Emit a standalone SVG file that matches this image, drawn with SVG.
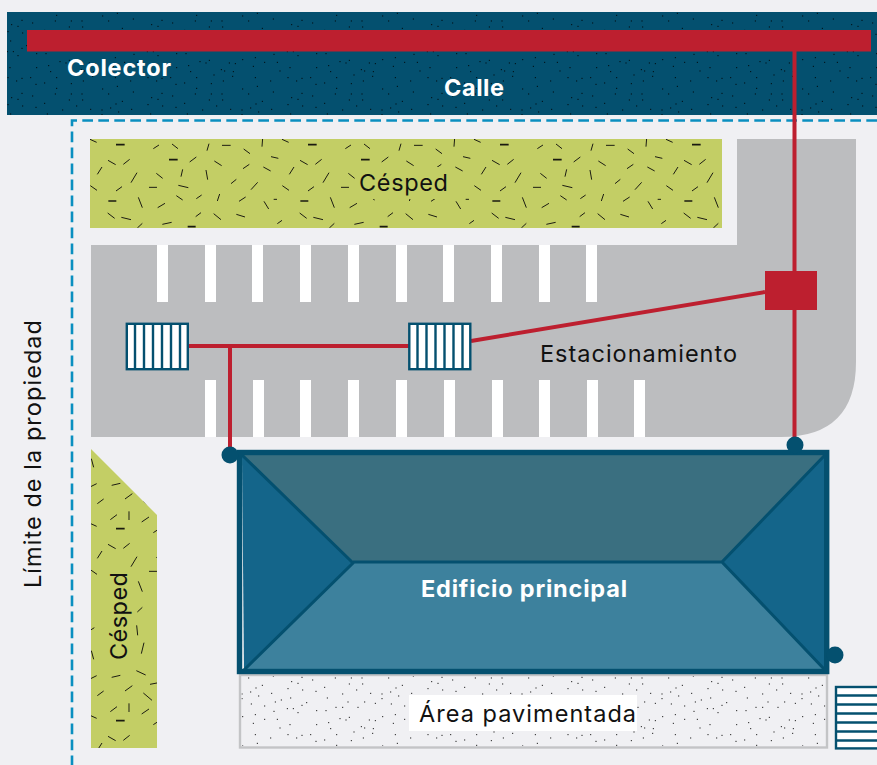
<svg xmlns="http://www.w3.org/2000/svg" width="877" height="765" viewBox="0 0 877 765">
<style>
text{font-family:Inter,"Liberation Sans",sans-serif;font-size:23.5px;fill:#111}
.b{font-weight:700;fill:#fff}
.wire{stroke:#bd1f2f;stroke-width:4;fill:none}
.grate{fill:#fff;stroke:#04506f;stroke-width:2.4}
.bars{stroke:#04506f;stroke-width:2.4;fill:none}
.stripe{fill:#fff}
.dot{fill:#04506f}
.rl{stroke:#04506f;stroke-width:3;fill:none}
</style>
<defs>
<pattern id="grass" patternUnits="userSpaceOnUse" x="90" y="139" width="192" height="192">
<g transform="scale(.33333) translate(-270,-417)" stroke="#1a1a10" fill="none" stroke-width="3">
<path d="M270 418L290 427M460 446L477 435M516 432L534 446M621 452L627 431M666 436L692 436M731 447L750 461M786 440L788 414M569 486L589 471M643 483L665 497M729 506L748 493M813 470L835 475M324 481L347 494M370 493L389 478M292 523L306 501M393 548L411 518M469 520L488 535M543 530L548 508M618 510L623 539M693 551L709 538M790 501L812 513M753 569L773 547M271 557L291 571M348 573L366 560M447 562L471 562M535 556L565 563M415 592L427 623M473 623L495 610M529 587L548 600M589 596L605 585M652 603L659 582M717 604L737 591M792 604L806 627M831 598L821 598M323 639L344 655M364 652L393 659M412 684L427 670M487 673L515 667M587 650L603 638M641 641L663 659M709 643L735 651M832 671L849 659M410 724L413 754M424 809L432 776M272 738L283 731M274 800L281 826M272 884L290 875M335 880L361 874M409 860L437 873M450 901L471 897M292 935L311 921M375 921L397 905M430 927L456 949M331 983L351 968M387 958L387 984M425 990L447 975"/>
<path stroke-width="5" d="M348 434L374 434M507 479L533 479M325 603L349 603M563 680L587 680"/>
</g>
</pattern>
<pattern id="dots" patternUnits="userSpaceOnUse" x="240" y="675" width="140" height="73">
<path transform="scale(.33333) translate(-540,-705)" stroke="#000" stroke-width="3" stroke-linecap="square" fill="none" d="M566 714h.1M640 708h.1M695 725h.1M726 712h.1M758 720h.1M826 714h.1M874 714h.1M906 714h.1M868 732h.1M908 732h.1M607 736h.1M588 744h.1M572 756h.1M546 762h.1M546 776h.1M596 768h.1M635 760h.1M684 746h.1M714 730h.1M728 750h.1M768 754h.1M794 742h.1M848 762h.1M890 750h.1M932 760h.1M574 792h.1M614 798h.1M646 786h.1M664 780h.1M692 774h.1M740 788h.1M726 796h.1M802 774h.1M864 786h.1M848 802h.1M894 802h.1M914 786h.1M946 790h.1M682 806h.1M700 806h.1M714 818h.1M642 814h.1M770 812h.1M798 812h.1M828 802h.1M586 824h.1M548 830h.1M614 838h.1M652 838h.1M580 850h.1M840 836h.1M858 840h.1M868 832h.1M806 848h.1M928 840h.1M946 842h.1M904 860h.1M914 864h.1M940 866h.1M660 864h.1M690 854h.1M770 854h.1M812 866h.1M882 876h.1M586 884h.1M632 894h.1M684 884h.1M710 894h.1M726 886h.1M752 884h.1M830 884h.1M910 894h.1M938 880h.1M592 910h.1M768 904h.1M794 900h.1M874 902h.1M830 916h.1M548 918h.1"/>
</pattern>
</defs>
<rect width="877" height="765" fill="#f0f0f3"/>

<g id="calle">
<rect x="7" y="12" width="870" height="103" fill="#04506f"/>
<rect x="7" y="12" width="870" height="103" fill="url(#dots)"/>
<text class="b" x="444" y="96" textLength="60">Calle</text>
</g>
<path id="limite-propiedad" d="M877 120.500H72V765" fill="none" stroke="#0a8fc0" stroke-width="2.600" stroke-dasharray="10.700 5.300"/>
<text transform="translate(41,588) rotate(-90)" textLength="268">Límite de la propiedad</text>

<g id="cesped-superior">
<rect x="90" y="139" width="632" height="89" fill="#c3ce65"/>
<rect x="90" y="139" width="632" height="89" fill="url(#grass)"/>
<rect x="355" y="167" width="97" height="32" fill="#c3ce65"/>
<text x="359" y="191" textLength="89">Césped</text>
</g>

<g id="estacionamiento">
<path d="M91 245H737V139H856V362Q856 437 781 437H91Z" fill="#bcbdbf"/>
<g class="stripe">
<rect x="157" y="245" width="11" height="57"/><rect x="205" y="245" width="11" height="57"/><rect x="252" y="245" width="11" height="57"/><rect x="300" y="245" width="11" height="57"/><rect x="348" y="245" width="11" height="57"/><rect x="396" y="245" width="11" height="57"/><rect x="443" y="245" width="11" height="57"/><rect x="491" y="245" width="11" height="57"/><rect x="539" y="245" width="11" height="57"/><rect x="586" y="245" width="11" height="57"/>
<rect x="205" y="380" width="11" height="57"/><rect x="253" y="380" width="11" height="57"/><rect x="300" y="380" width="11" height="57"/><rect x="348" y="380" width="11" height="57"/><rect x="396" y="380" width="11" height="57"/><rect x="444" y="380" width="11" height="57"/><rect x="492" y="380" width="11" height="57"/><rect x="539" y="380" width="11" height="57"/><rect x="587" y="380" width="11" height="57"/><rect x="634" y="380" width="11" height="57"/>
</g>
<text x="540" y="362" textLength="197">Estacionamiento</text>
</g>

<g id="cesped-lateral">
<path d="M91 449L157 515V748H91Z" fill="#c3ce65"/>
<path d="M91 449L157 515V748H91Z" fill="url(#grass)"/>
<rect x="106" y="567" width="26" height="98" fill="#c3ce65"/>
<text transform="translate(127,660) rotate(-90)" textLength="88">Césped</text>
</g>

<g id="area-pavimentada">
<rect x="240" y="675" width="587" height="72.500" fill="#f0f0f3" stroke="#c3c4c6" stroke-width="2.400"/>
<rect x="241.500" y="676" width="584" height="70" fill="url(#dots)"/>
<rect x="409" y="695" width="228" height="36" fill="#fff"/>
<text x="419" y="722" textLength="217">Área pavimentada</text>
</g>

<g id="edificio-principal">
<path d="M242 455H825L722 562H353Z" fill="#3a6f80"/>
<path d="M353 562H722L825 669H246Z" fill="#3d819d"/>
<path d="M242 455L353 562L244 670Z" fill="#14658a"/>
<path d="M825 455L722 562L825 670Z" fill="#14658a"/>
<path class="rl" d="M242 455L353 563L244 670M825 455L722 562L825 670M353 562H722"/>
<rect x="239.500" y="452.500" width="587.200" height="219" fill="none" stroke="#04506f" stroke-width="5.400"/>
<text class="b" x="421" y="597" textLength="206">Edificio principal</text>
</g>

<g id="conectores">
<path class="wire" d="M794.500 51V445M765 292L471 341M188 346H409M230 346V455"/>
</g>

<g id="colector">
<rect x="27" y="30" width="844" height="21.500" fill="#bd1f2f"/>
<text class="b" x="67" y="76" textLength="104">Colector</text>
</g>
<rect id="camara" x="765" y="271" width="52" height="39" fill="#bd1f2f"/>

<g id="rejilla-1">
<rect class="grate" x="126.800" y="323.800" width="61" height="45.400"/>
<path class="bars" d="M135 324V369M144 324V369M153 324V369M162 324V369M171 324V369M180 324V369"/>
</g>
<g id="rejilla-2">
<rect class="grate" x="409.300" y="323.800" width="61" height="45.400"/>
<path class="bars" d="M417.500 324V369M426.500 324V369M435.500 324V369M444.500 324V369M453.500 324V369M462.500 324V369"/>
</g>
<g id="rejilla-3">
<rect class="grate" x="836" y="687" width="45" height="61.400"/>
<path class="bars" d="M836 695.500H877M836 704.500H877M836 713.500H877M836 722.500H877M836 731.500H877M836 740.500H877"/>
</g>
<circle id="bajante-1" class="dot" cx="230" cy="455" r="8.500"/>
<circle id="bajante-2" class="dot" cx="795" cy="445" r="8.500"/>
<circle id="bajante-3" class="dot" cx="835" cy="655" r="8.500"/>
</svg>
